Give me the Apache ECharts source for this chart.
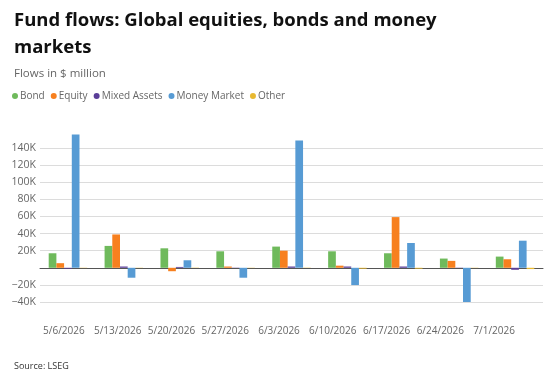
<!DOCTYPE html>
<html>
<head>
<meta charset="utf-8">
<script src="https://cdn.jsdelivr.net/npm/echarts@6/dist/echarts.min.js"></script>
<style>
  html, body { margin: 0; padding: 0; background: #fff; }
  #chart { width: 554px; height: 371px; }
</style>
</head>
<body>
<div id="chart"></div>
<script>
var weeks = ['5/6/2026', '5/13/2026', '5/20/2026', '5/27/2026', '6/3/2026', '6/10/2026', '6/17/2026', '6/24/2026', '7/1/2026'];
var bond = [17000, 25600, 22800, 19300, 24800, 19300, 17000, 10800, 13100];
var equity = [5400, 39000, -4000, 1500, 20000, 2500, 59300, 8100, 10000];
var mixedAssets = [-1000, 1500, 1000, 300, 1500, 1500, 1500, 300, -2300];
var moneyMarket = [155800, -11600, 8800, -11600, 149000, -20200, 29000, -40300, 31700];
var other = [-300, -300, 300, -300, 300, -1000, -1000, -300, -1500];
var yTicks = { min: -40000, max: 160000, interval: 20000 };

var colors = ['#6fba5c', '#f7801f', '#5a3e98', '#579bd4', '#e8b931'];
var names = ['Bond', 'Equity', 'Mixed Assets', 'Money Market', 'Other'];
var values = [bond, equity, mixedAssets, moneyMarket, other];

var chart = echarts.init(document.getElementById('chart'));

var series = names.map(function (name, i) {
    return {
        name: name,
        type: 'bar',
        data: values[i],
        barWidth: 7.7,
        barGap: '0%',
        itemStyle: { color: colors[i] },
        xAxisIndex: 0,
        yAxisIndex: 0
    };
});

var option = {
    animation: false,
    textStyle: { fontFamily: 'Open Sans' },
    title: [
        {
            text: 'Fund flows: Global equities, bonds and money\nmarkets',
            left: 9, top: 2,
            textStyle: { fontSize: 18.5, fontWeight: 'bold', color: '#111', lineHeight: 27, fontFamily: 'Open Sans' }
        },
        {
            text: 'Flows in $ million',
            left: 9, top: 63,
            textStyle: { fontSize: 11.5, fontWeight: 'normal', color: '#666', fontFamily: 'Open Sans' }
        },
        {
            text: 'Source: LSEG',
            left: 9, top: 357,
            textStyle: { fontSize: 9, fontWeight: 'normal', color: '#333', fontFamily: 'Open Sans' }
        }
    ],
    legend: {
        data: names,
        left: 7, top: 86,
        icon: 'circle',
        itemWidth: 6, itemHeight: 6,
        itemGap: 6,
        textStyle: { fontSize: 10, color: '#666', padding: [0, 0, 0, -3] }
    },
    grid: [
        { left: 40, right: 11, top: 131, bottom: 69 },
        { left: 37, right: 33, top: 131, bottom: 69 }
    ],
    xAxis: [
        {
            type: 'category', data: weeks, gridIndex: 0,
            axisLine: { lineStyle: { color: '#555', width: 1 } },
            axisTick: { show: false },
            axisLabel: { show: false }
        },
        {
            type: 'category', data: weeks, gridIndex: 1,
            axisLine: { show: false },
            axisTick: { show: false },
            axisLabel: { interval: 0, margin: 24, fontSize: 10, color: '#666' }
        }
    ],
    yAxis: [
        {
            type: 'value', gridIndex: 0,
            min: yTicks.min, max: yTicks.max, interval: yTicks.interval,
            axisLine: { show: false },
            axisTick: { show: false },
            splitLine: { lineStyle: { color: '#dcdcdc' }, showMaxLine: false },
            axisLabel: {
                fontSize: 10.5, color: '#666', margin: 4, showMaxLabel: false,
                formatter: function (v) {
                    if (v === 0 || v >= yTicks.max) return '';
                    return (v < 0 ? '\u2212' : '') + Math.abs(v / 1000) + 'K';
                }
            }
        },
        {
            type: 'value', gridIndex: 1, show: false,
            min: yTicks.min, max: yTicks.max
        }
    ],
    series: series
};

chart.setOption(option);
</script>
</body>
</html>
